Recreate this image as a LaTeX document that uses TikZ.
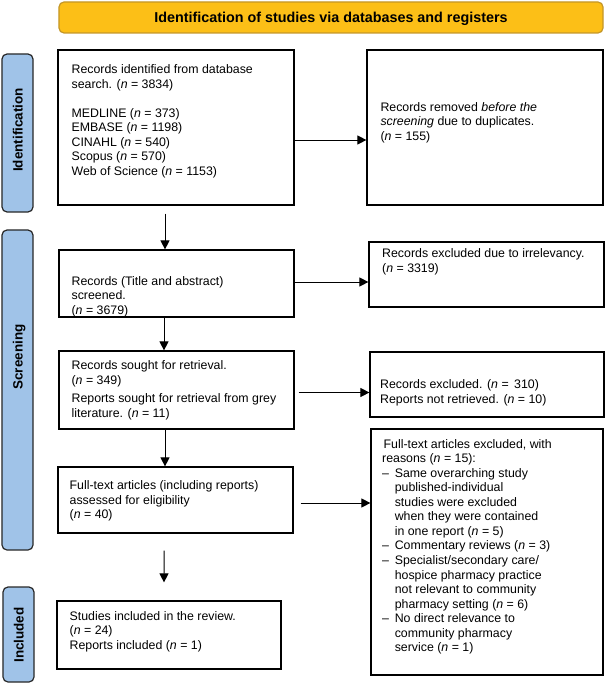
\documentclass[tikz,border=0pt]{standalone}
\usepackage{fontspec}
\setmainfont{Liberation Sans}
\usetikzlibrary{arrows.meta}
\definecolor{bannerfill}{RGB}{252,191,23}
\definecolor{bannerdraw}{RGB}{196,150,40}
\definecolor{barfill}{RGB}{160,195,232}
\definecolor{bardraw}{RGB}{40,40,40}
\newcommand\prdash{\makebox[12.6bp][l]{–}}
\newcommand\prind{\hspace*{12.6bp}}
\begin{document}
\begin{tikzpicture}[x=1bp,y=-1bp,
  box/.style={draw=black, line width=1.2bp, inner sep=0pt},
  txt/.style={anchor=base west, inner sep=0pt, align=left, font=\fontsize{12.4}{14.5}\selectfont},
  arr/.style={line width=1bp, -{Triangle[length=9bp,width=9bp]}},
  bar/.style={draw=bardraw, fill=barfill, line width=1.2bp, rounded corners=5bp, inner sep=0pt},
  barlabel/.style={rotate=90, anchor=base, inner sep=0pt, font=\fontsize{13.5}{16}\selectfont\bfseries}
]
\useasboundingbox (0,0) rectangle (605,684);

% banner
\node[draw=bannerdraw, fill=bannerfill, rounded corners=5bp, line width=1.2bp,
      minimum width=544bp, minimum height=31bp, inner sep=0pt] (banner) at (331,17.5) {};
\node[anchor=base, inner sep=0pt, font=\fontsize{14.4}{17}\selectfont\bfseries] (bannertxt) at (331,22.5)
  {Identification of studies via databases and registers};

% side bars
\node[bar, minimum width=31bp, minimum height=158bp] (idbar) at (17.5,133) {};
\node[barlabel] (idlab) at (22.5,130) {Identification};
\node[bar, minimum width=31bp, minimum height=320bp] (scbar) at (17.5,390) {};
\node[barlabel] (sclab) at (22.5,357) {Screening};
\node[bar, minimum width=31bp, minimum height=95bp] (inbar) at (18.5,634.5) {};
\node[barlabel] (inlab) at (23.5,635) {Included};

% boxes
\node[box, minimum width=236bp, minimum height=155bp] (b1) at (176,127.5) {};
\node[box, minimum width=236bp, minimum height=155bp] (rem) at (485,127.5) {};
\node[box, minimum width=235bp, minimum height=67bp] (b2) at (176.5,283.5) {};
\node[box, minimum width=235bp, minimum height=65bp] (irr) at (486.5,274.5) {};
\node[box, minimum width=235bp, minimum height=78bp] (b3) at (176.5,390) {};
\node[box, minimum width=234bp, minimum height=65bp] (ex2) at (487,384.5) {};
\node[box, minimum width=235bp, minimum height=66bp] (b4) at (175.5,500) {};
\node[box, minimum width=232bp, minimum height=246bp] (ex3) at (487,552) {};
\node[box, minimum width=224bp, minimum height=68bp] (b5) at (169,635) {};

% texts (anchored at the baseline of their last line)
\node[txt] (t1) at (71.4,175.1) {Records identified from database\\ search. (\textit{n} = 3834)\\[14.5pt]
  MEDLINE (\textit{n} = 373)\\ EMBASE (\textit{n} = 1198)\\ CINAHL (\textit{n} = 540)\\
  Scopus (\textit{n} = 570)\\ Web of Science (\textit{n} = 1153)};
\node[txt] (trem) at (380.3,140.4) {Records removed \textit{before the}\\ \textit{screening} due to duplicates.\\ (\textit{n} = 155)};
\node[txt] (t2) at (71.4,314.4) {Records (Title and abstract)\\ screened.\\ (\textit{n} = 3679)};
\node[txt] (tirr) at (382,272.1) {Records excluded due to irrelevancy.\\ (\textit{n} = 3319)};
\node[txt] (t3) at (71.4,417.1) {Records sought for retrieval.\\ (\textit{n} = 349)\\[4pt]
  Reports sought for retrieval from grey\\ literature. (\textit{n} = 11)};
\node[txt] (tex2) at (380,403.4) {Records excluded. (\textit{n} = \,310)\\ Reports not retrieved. (\textit{n} = 10)};
\node[txt] (t4) at (69.5,518.7) {Full-text articles (including reports)\\ assessed for eligibility\\ (\textit{n} = 40)};
\node[txt, font=\fontsize{12.4}{14.6}\selectfont] (tex3) at (382,651.8) {\hspace*{1.4bp}Full-text articles excluded, with\\
  reasons (\textit{n} = 15):\\
  \prdash Same overarching study\\
  \prind published-individual\\
  \prind studies were excluded\\
  \prind when they were contained\\
  \prind in one report (\textit{n} = 5)\\
  \prdash Commentary reviews (\textit{n} = 3)\\
  \prdash Specialist/secondary care/\\
  \prind hospice pharmacy practice\\
  \prind not relevant to community\\
  \prind pharmacy setting (\textit{n} = 6)\\
  \prdash No direct relevance to\\
  \prind community pharmacy\\
  \prind service (\textit{n} = 1)};
\node[txt] (t5) at (69.5,649.4) {Studies included in the review.\\ (\textit{n} = 24)\\ Reports included (\textit{n} = 1)};

% connectors
\draw[arr] ([xshift=-11bp,yshift=-8bp]b1.south) -- ([xshift=-11bp]b1.south |- b2.north);
\draw[arr] ([yshift=-12.5bp]b1.east) -- ([yshift=-12.5bp]b1.east -| rem.west);
\draw[arr] ([yshift=1.5bp]b2.east) -- ([yshift=1.5bp]b2.east -| irr.west);
\draw[arr] ([xshift=-12.5bp]b2.south) -- ([xshift=-12.5bp]b2.south |- b3.north);
\draw[arr] ([xshift=4bp,yshift=-2.5bp]b3.east) -- ([yshift=-2.5bp]b3.east -| ex2.west);
\draw[arr] ([xshift=-11.5bp]b3.south) -- ([xshift=-11.5bp]b3.south |- b4.north);
\draw[arr] ([xshift=7bp,yshift=-3bp]b4.east) -- ([yshift=-3bp]b4.east -| ex3.west);
\draw[arr] ([xshift=-11.5bp,yshift=-17bp]b4.south) -- ([xshift=-5bp,yshift=18bp]b5.north);
\end{tikzpicture}
\end{document}
